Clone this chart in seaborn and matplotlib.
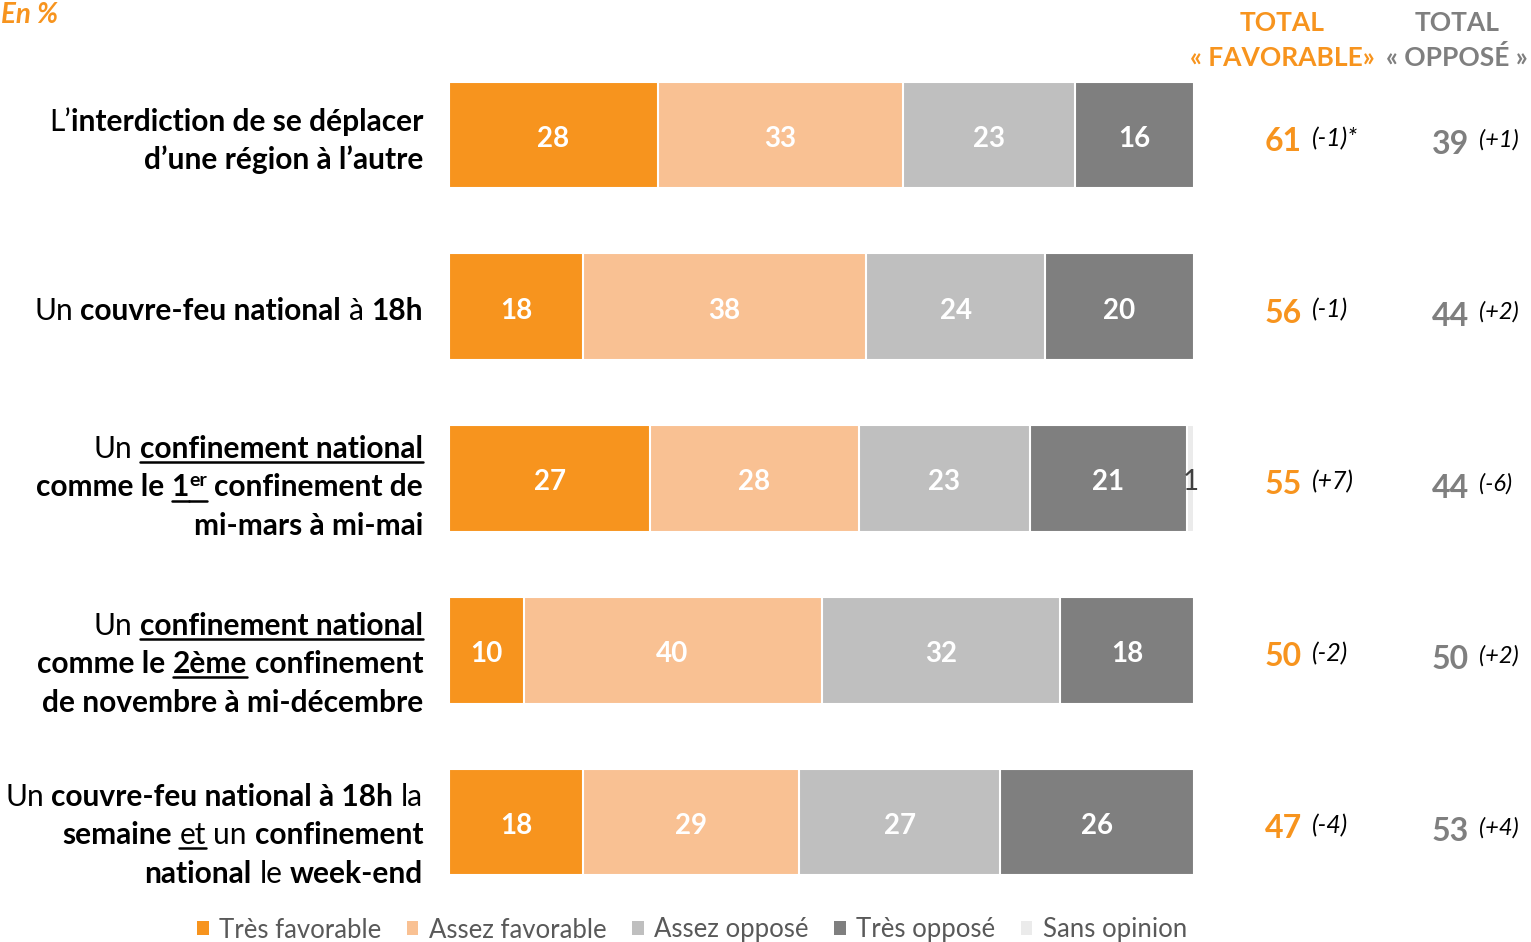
import matplotlib
matplotlib.use('Agg')
import matplotlib.pyplot as plt
import seaborn as sns
import pandas as pd
from matplotlib.patches import Patch
from matplotlib.lines import Line2D
from matplotlib.transforms import IdentityTransform

sns.set_theme(style='white')
plt.rcParams['font.family'] = ['Lato', 'DejaVu Sans']

# data
items = ['interdiction', 'couvre-feu 18h', 'confinement 1', 'confinement 2', 'couvre-feu + week-end']
series = ['Très favorable', 'Assez favorable', 'Assez opposé', 'Très opposé', 'Sans opinion']
tres_fav = [28, 18, 27, 10, 18]
assez_fav = [33, 38, 28, 40, 29]
assez_opp = [23, 24, 23, 32, 27]
tres_opp = [16, 20, 21, 18, 26]
sans_op = [0, 0, 1, 0, 0]
total_fav = [61, 56, 55, 50, 47]
total_opp = [39, 44, 44, 50, 53]
delta_fav = ['(-1)*', '(-1)', '(+7)', '(-2)', '(-4)']
delta_opp = ['(+1)', '(+2)', '(-6)', '(+2)', '(+4)']

# label lines: (text, style) b=bold u=underline s=superscript, leading space = gap
labels = [
    [[('L’', ''), ('interdiction de se déplacer', 'b')],
     [('d’une région à l’autre', 'b')]],
    [[('Un', ''), (' couvre-feu national', 'b'), (' à', ''), (' 18h', 'b')]],
    [[('Un', ''), (' confinement national', 'bu')],
     [('comme le', 'b'), (' 1', 'bu'), ('er', 'bus'), (' confinement de', 'b')],
     [('mi-mars à mi-mai', 'b')]],
    [[('Un', ''), (' confinement national', 'bu')],
     [('comme le', 'b'), (' 2ème', 'bu'), (' confinement', 'b')],
     [('de novembre à mi-décembre', 'b')]],
    [[('Un', ''), (' couvre-feu national à 18h', 'b'), (' la', '')],
     [('semaine', 'b'), (' et', 'u'), (' un', ''), (' confinement', 'b')],
     [('national', 'b'), (' le', ''), (' week-end', 'b')]],
]
label_shift = [-2, -4, 1, 6, 5]

colors = ['#F7941E', '#F9C193', '#BFBFBF', '#7F7F7F', '#EBEBEB']
orange = '#F7941E'
grey = '#7F7F7F'

W, H = 1531, 942
fig = plt.figure(figsize=(W / 100, H / 100), dpi=100)
ax = fig.add_axes([449 / W, 34 / H, 745 / W, 859 / H])

parts = [tres_fav, assez_fav, assez_opp, tres_opp, sans_op]
df = pd.DataFrame({'item': items})
run = [0] * len(items)
for name, p in zip(series, parts):
    run = [a + b for a, b in zip(run, p)]
    df[name] = run

# stacked bars: draw cumulative totals from the right end backwards
for name, col in reversed(list(zip(series, colors))):
    sns.barplot(data=df, x=name, y='item', orient='h', color=col, saturation=1,
                width=0.62, edgecolor='white', linewidth=1.5, errorbar=None, ax=ax)

ax.set_xlim(0, 100)
ax.set_ylim(4.5, -0.5)
ax.axis('off')

ident = IdentityTransform()
r = fig.canvas.get_renderer()


def px(xd, yd):
    return ax.transData.transform((xd, yd))


# values inside the bars
for i in range(len(items)):
    left = 0
    for k, p in enumerate(parts):
        v = p[i]
        if v > 0:
            x, y = px(left + v / 2, i)
            if v >= 5:
                fig.text(x, y - 12, str(v), transform=ident, ha='center', va='baseline',
                         color='white', fontsize=20, fontweight='bold')
            else:
                fig.text(x, y - 12, str(v), transform=ident, ha='center', va='baseline',
                         color='#404040', fontsize=20)
        left += v

# totals on the right
for i in range(len(items)):
    _, y = px(0, i)
    fig.text(1265, y - 16, str(total_fav[i]), transform=ident, ha='left', va='baseline',
             color=orange, fontsize=23, fontweight='bold')
    fig.text(1312, y - 11, delta_fav[i], transform=ident, ha='left', va='baseline',
             color='black', fontsize=18, style='italic')
    fig.text(1432, y - 19, str(total_opp[i]), transform=ident, ha='left', va='baseline',
             color=grey, fontsize=23, fontweight='bold')
    fig.text(1479, y - 12, delta_opp[i], transform=ident, ha='left', va='baseline',
             color='black', fontsize=17, style='italic')

fig.text(1282, H - 31, 'TOTAL', transform=ident, ha='center', va='baseline',
         color=orange, fontsize=19, fontweight='bold')
fig.text(1282, H - 66, '« FAVORABLE»', transform=ident, ha='center', va='baseline',
         color=orange, fontsize=19, fontweight='bold')
fig.text(1457, H - 31, 'TOTAL', transform=ident, ha='center', va='baseline',
         color=grey, fontsize=19, fontweight='bold')
fig.text(1457, H - 66, '« OPPOSÉ »', transform=ident, ha='center', va='baseline',
         color=grey, fontsize=19, fontweight='bold')

fig.text(1, H - 23, 'En %', transform=ident, ha='left', va='baseline',
         color=orange, fontsize=20, fontweight='bold', style='italic')


# category labels with mixed weights, right aligned
def text_width(s, fs, weight):
    t = fig.text(0, 0, s, fontsize=fs, fontweight=weight, transform=ident)
    w = t.get_window_extent(r).width
    t.remove()
    return w


lab_fs = 21.5
space = text_width('a a', lab_fs, 'normal') - text_width('aa', lab_fs, 'normal')
x_right = 423
for i, lines in enumerate(labels):
    _, yc = px(0, i)
    n = len(lines)
    for j, line in enumerate(lines):
        base = yc - 7 - 10 - label_shift[i] - (j - (n - 1) / 2) * 38.5
        arts = []
        for txt, st in line:
            gap = txt.startswith(' ')
            fs = 14 if 's' in st else lab_fs
            t = fig.text(0, 0, txt.strip(), transform=ident, ha='left', va='baseline',
                         fontsize=fs, fontweight='bold' if 'b' in st else 'normal', color='black')
            w = t.get_window_extent(r).width
            arts.append((t, w, gap, st))
        total = sum(w + (space if gap else 0) for _, w, gap, _ in arts)
        x = x_right - total
        for t, w, gap, st in arts:
            if gap:
                x += space
            t.set_position((x, base + (10 if 's' in st else 0)))
            if 'u' in st:
                fig.add_artist(Line2D([x, x + w], [base - 4, base - 4], transform=ident,
                                      color='black', lw=1.8))
            x += w

handles = [Patch(facecolor=c, edgecolor='none') for c in colors]
fig.legend(handles, series, loc='center', bbox_to_anchor=(692 / W, 1 - 930 / H), ncol=5,
           frameon=False, handlelength=0.45, handleheight=0.45, handletextpad=0.4,
           columnspacing=1.0, fontsize=18.5, labelcolor='#595959')

fig.savefig('out.png', dpi=100)
